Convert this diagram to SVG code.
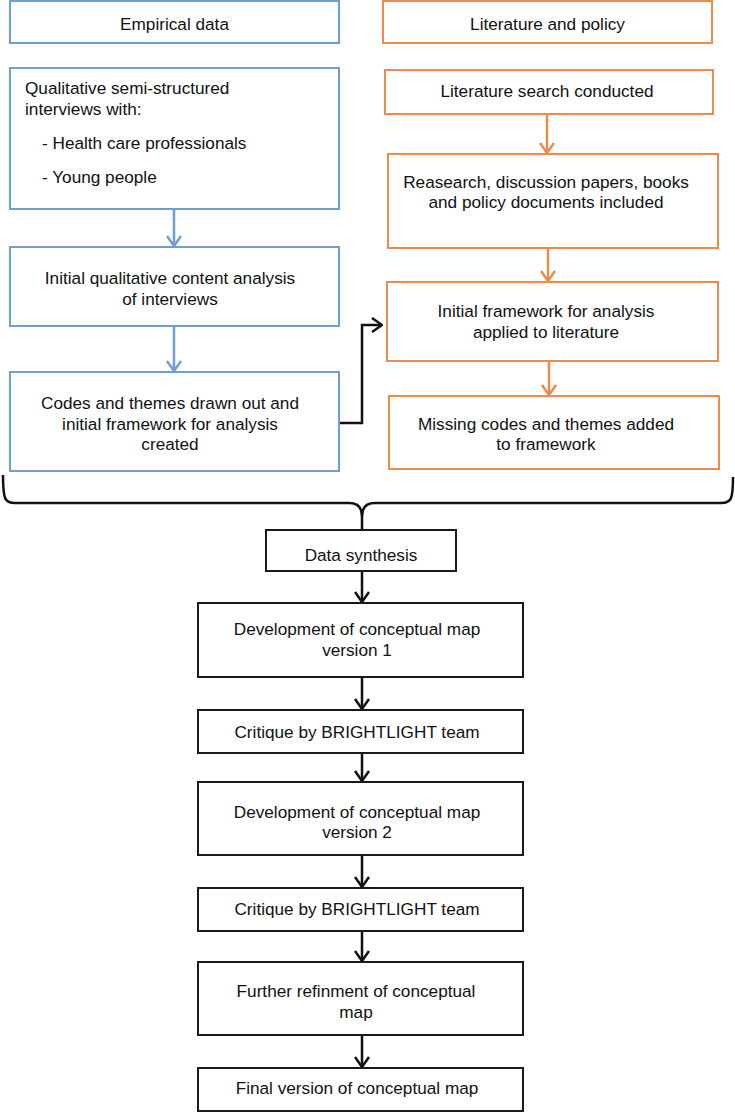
<svg xmlns="http://www.w3.org/2000/svg" width="735" height="1116" viewBox="0 0 735 1116">
<style>
text{font-family:"Liberation Sans",Arial,sans-serif;font-size:17.2px;fill:#111;}
.m{text-anchor:middle;}
.b{fill:#fff;stroke:#6f9fd0;stroke-width:2;}
.o{fill:#fff;stroke:#ec8c4a;stroke-width:2;}
.k{fill:#fff;stroke:#1a1a1a;stroke-width:2;}
.cb{fill:none;stroke:#6f9fd0;stroke-width:2.5;}
.co{fill:none;stroke:#ec8c4a;stroke-width:2.5;}
.ck{fill:none;stroke:#111;stroke-width:2.5;}
</style>
<defs>
<marker id="ab" viewBox="0 0 12 16" refX="11" refY="8" markerWidth="12" markerHeight="16" markerUnits="userSpaceOnUse" orient="auto"><path d="M1,1 L11,8 L1,15" fill="none" stroke="#6f9fd0" stroke-width="2.5"/></marker>
<marker id="ao" viewBox="0 0 12 16" refX="11" refY="8" markerWidth="12" markerHeight="16" markerUnits="userSpaceOnUse" orient="auto"><path d="M1,1 L11,8 L1,15" fill="none" stroke="#ec8c4a" stroke-width="2.5"/></marker>
<marker id="ak" viewBox="0 0 12 16" refX="11" refY="8" markerWidth="12" markerHeight="16" markerUnits="userSpaceOnUse" orient="auto"><path d="M1,1 L11,8 L1,15" fill="none" stroke="#111" stroke-width="2.5"/></marker>
</defs>
<rect width="735" height="1116" fill="#fff"/>
<g id="connectors">
<line class="cb" x1="174" y1="209" x2="174" y2="246" marker-end="url(#ab)"/>
<line class="cb" x1="174" y1="326" x2="174" y2="371" marker-end="url(#ab)"/>
<line class="co" x1="547" y1="114" x2="547" y2="153" marker-end="url(#ao)"/>
<line class="co" x1="548" y1="248" x2="548" y2="281" marker-end="url(#ao)"/>
<line class="co" x1="549" y1="361" x2="549" y2="395" marker-end="url(#ao)"/>
<path class="ck" d="M339,423 L362,423 L362,325 L382,325" marker-end="url(#ak)"/>
<path class="ck" d="M3,475 C3,500 5,503 15,503 L349,503 Q362,503 362,516 L362,530"/>
<path class="ck" d="M733,477 C733,500 731,503 721,503 L375,503 Q362,503 362,516"/>
<line class="ck" x1="362" y1="571" x2="362" y2="602" marker-end="url(#ak)"/>
<line class="ck" x1="362" y1="677" x2="362" y2="709" marker-end="url(#ak)"/>
<line class="ck" x1="362" y1="753" x2="362" y2="781" marker-end="url(#ak)"/>
<line class="ck" x1="362" y1="855" x2="362" y2="887" marker-end="url(#ak)"/>
<line class="ck" x1="362" y1="931" x2="362" y2="961" marker-end="url(#ak)"/>
<line class="ck" x1="362" y1="1035" x2="362" y2="1067" marker-end="url(#ak)"/>
</g>
<g id="empirical">
<rect class="b" x="10" y="1" width="329" height="42"/>
<text class="m" x="174.5" y="30">Empirical data</text>
</g>
<g id="interviews">
<rect class="b" x="10" y="68" width="329" height="141"/>
<text x="25" y="94">Qualitative semi-structured</text>
<text x="25" y="115">interviews with:</text>
<text x="42" y="149">- Health care professionals</text>
<text x="42" y="183">- Young people</text>
</g>
<g id="initial-analysis">
<rect class="b" x="10" y="247" width="329" height="79"/>
<text class="m" x="170" y="284">Initial qualitative content analysis</text>
<text class="m" x="170" y="305">of interviews</text>
</g>
<g id="codes">
<rect class="b" x="10" y="372" width="329" height="99"/>
<text class="m" x="170" y="409">Codes and themes drawn out and</text>
<text class="m" x="170" y="430">initial framework for analysis</text>
<text class="m" x="170" y="450">created</text>
</g>
<g id="literature">
<rect class="o" x="383" y="1" width="329" height="42"/>
<text class="m" x="547.5" y="30">Literature and policy</text>
</g>
<g id="lit-search">
<rect class="o" x="385" y="70" width="328" height="44"/>
<text class="m" x="547" y="97">Literature search conducted</text>
</g>
<g id="research">
<rect class="o" x="388" y="154" width="330" height="94"/>
<text class="m" x="546" y="188">Reasearch, discussion papers, books</text>
<text class="m" x="546" y="208">and policy documents included</text>
</g>
<g id="framework-applied">
<rect class="o" x="387" y="282" width="331" height="79"/>
<text class="m" x="546" y="317">Initial framework for analysis</text>
<text class="m" x="546" y="338">applied to literature</text>
</g>
<g id="missing">
<rect class="o" x="389" y="396" width="330" height="73"/>
<text class="m" x="546" y="430">Missing codes and themes added</text>
<text class="m" x="546" y="450">to framework</text>
</g>
<g id="synthesis">
<rect class="k" x="266" y="530" width="190" height="41"/>
<text class="m" x="361" y="561">Data synthesis</text>
</g>
<g id="map-v1">
<rect class="k" x="198" y="603" width="325" height="74"/>
<text class="m" x="357" y="635">Development of conceptual map</text>
<text class="m" x="357" y="656">version 1</text>
</g>
<g id="critique1">
<rect class="k" x="198" y="710" width="325" height="43"/>
<text class="m" x="357" y="738">Critique by BRIGHTLIGHT team</text>
</g>
<g id="map-v2">
<rect class="k" x="198" y="782" width="325" height="73"/>
<text class="m" x="357" y="818">Development of conceptual map</text>
<text class="m" x="357" y="838">version 2</text>
</g>
<g id="critique2">
<rect class="k" x="198" y="888" width="325" height="43"/>
<text class="m" x="357" y="915">Critique by BRIGHTLIGHT team</text>
</g>
<g id="refinement">
<rect class="k" x="198" y="962" width="325" height="73"/>
<text class="m" x="356" y="997">Further refinment of conceptual</text>
<text class="m" x="356" y="1018">map</text>
</g>
<g id="final">
<rect class="k" x="198" y="1068" width="325" height="43"/>
<text class="m" x="357" y="1094">Final version of conceptual map</text>
</g>
</svg>
